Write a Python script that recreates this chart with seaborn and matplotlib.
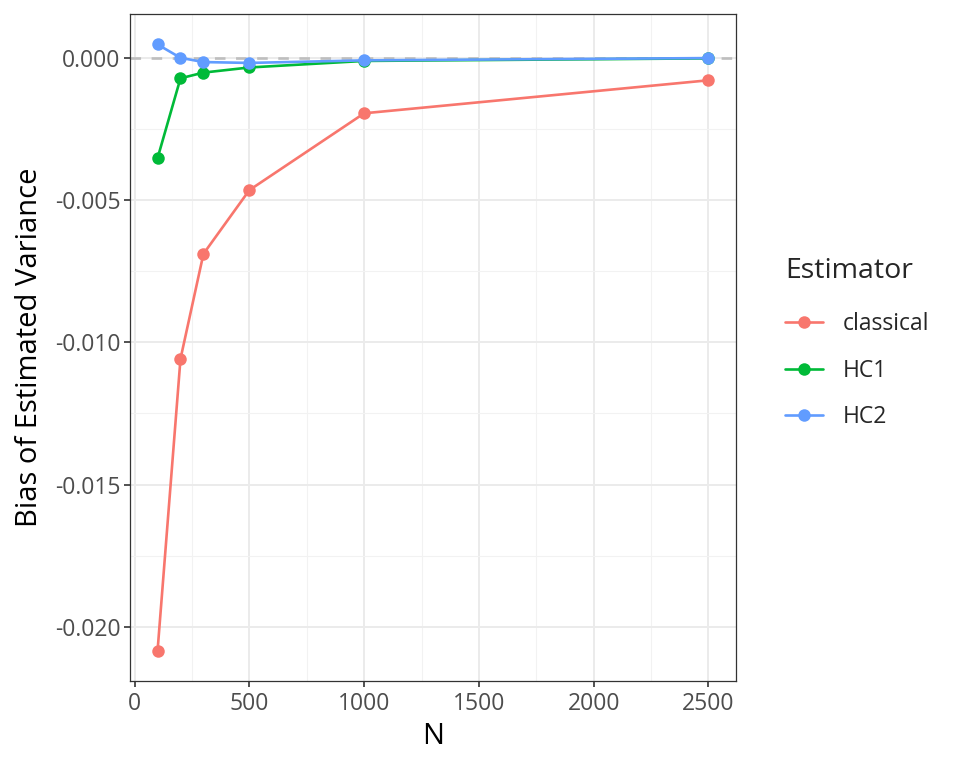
import matplotlib
matplotlib.use("Agg")
import matplotlib.pyplot as plt
from matplotlib.ticker import MultipleLocator, FuncFormatter
from matplotlib.lines import Line2D
import seaborn as sns
import pandas as pd

# values
n_values = [100, 200, 300, 500, 1000, 2500]
bias_classical = [-0.02085, -0.01058, -0.00689, -0.00465, -0.00195, -0.00079]
bias_hc1 = [-0.00353, -0.00072, -0.00052, -0.00034, -0.00011, -0.00002]
bias_hc2 = [0.00047, 0.00000, -0.00015, -0.00018, -0.00009, -0.00001]
estimators = ["classical", "HC1", "HC2"]
colours = ["#F8766D", "#00BA38", "#619CFF"]

df = pd.DataFrame({
    "N": n_values * 3,
    "bias": bias_classical + bias_hc1 + bias_hc2,
    "Estimator": sum([[e] * len(n_values) for e in estimators], []),
})

sns.set_theme(style="white")
plt.rcParams["font.family"] = ["Open Sans", "DejaVu Sans"]

fig = plt.figure(figsize=(9.6, 7.68), dpi=100)
ax = fig.add_axes([0.1354, 0.1133, 0.6313, 0.8685])

# grid like theme_bw
ax.xaxis.set_major_locator(MultipleLocator(500))
ax.xaxis.set_minor_locator(MultipleLocator(250))
ax.yaxis.set_major_locator(MultipleLocator(0.005))
ax.yaxis.set_minor_locator(MultipleLocator(0.0025))
ax.grid(which="major", color="#EBEBEB", linewidth=1.4)
ax.grid(which="minor", color="#F2F2F2", linewidth=0.8)
ax.set_axisbelow(True)

ax.axhline(0, color="#BEBEBE", linestyle=(0, (4, 4)), linewidth=1.9, zorder=1)

sns.lineplot(data=df, x="N", y="bias", hue="Estimator", palette=colours,
             hue_order=estimators, marker="o", markersize=9, markeredgewidth=0,
             linewidth=1.9, ax=ax, legend=False, zorder=3)

ax.set_xlim(-20, 2620)
ax.set_ylim(-0.0219, 0.00154)
ax.yaxis.set_major_formatter(FuncFormatter(lambda v, p: f"{v:.3f}"))

for s in ax.spines.values():
    s.set_color("#333333")
    s.set_linewidth(0.9)
ax.tick_params(which="major", length=4, width=1.2, color="#333333",
               labelsize=16.5, labelcolor="#4D4D4D", pad=3, left=True, bottom=True)
ax.tick_params(axis="x", pad=4)
ax.tick_params(which="minor", length=0)

ax.set_xlabel("N", fontsize=21, color="black", labelpad=4)
ax.set_ylabel("Bias of Estimated Variance", fontsize=21, color="black", labelpad=8)

handles = [Line2D([0], [0], color=c, marker="o", markersize=9, markeredgewidth=0,
                  linewidth=1.9) for c in colours]
leg = fig.legend(handles, estimators, title="Estimator", loc="center left",
                 bbox_to_anchor=(0.806, 0.553), frameon=False, fontsize=16.5,
                 title_fontsize=20.5, handlelength=1.65, labelspacing=0.98,
                 handletextpad=0.85, alignment="left", borderpad=0)
# a bit more room between title and keys
leg._legend_box.sep = 19.5

fig.savefig("out.png", dpi=100)
